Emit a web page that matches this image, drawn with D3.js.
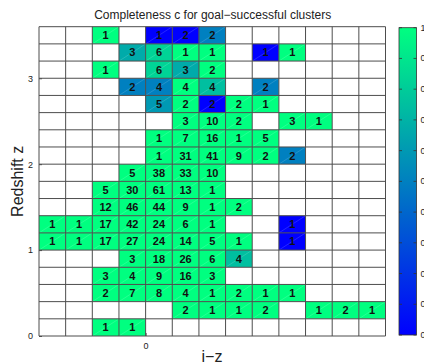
<!DOCTYPE html>
<html>
<head>
<meta charset="utf-8">
<script src="https://cdn.jsdelivr.net/npm/d3@7"></script>
<style>
  html, body { margin: 0; padding: 0; background: #fff; }
  svg { display: block; }
  text { font-family: "Liberation Sans", Arial, Helvetica, sans-serif; }
</style>
</head>
<body>
<svg id="chart" width="424" height="364"></svg>
<script>
// Bin lower edges: colour index i−z (13 bins) and redshift z (18 bins)
const izBins = [-0.4, -0.3, -0.2, -0.1, 0.0, 0.1, 0.2, 0.3, 0.4, 0.5, 0.6, 0.7, 0.8];
const zBins = [3.4, 3.2, 3.0, 2.8, 2.6, 2.4, 2.2, 2.0, 1.8, 1.6, 1.4, 1.2, 1.0, 0.8, 0.6, 0.4, 0.2, 0.0];
const binWidthIz = 0.1;
const binWidthZ = 0.2;

// Number of goal-successful clusters per bin (rows follow zBins, top to bottom)
const _ = null;
const counts = [
  [_, _, 1, _, 1, 2, 2, _, _, _, _, _, _],
  [_, _, _, 3, 6, 1, 1, _, 1, 1, _, _, _],
  [_, _, 1, _, 6, 3, 2, _, _, _, _, _, _],
  [_, _, _, 2, 4, 4, 4, _, 2, _, _, _, _],
  [_, _, _, _, 5, 2, 2, 2, 1, _, _, _, _],
  [_, _, _, _, _, 3, 10, 2, _, 3, 1, _, _],
  [_, _, _, _, 1, 7, 16, 1, 5, _, _, _, _],
  [_, _, _, _, 1, 31, 41, 9, 2, 2, _, _, _],
  [_, _, _, 5, 38, 33, 10, _, _, _, _, _, _],
  [_, _, 5, 30, 61, 13, 1, _, _, _, _, _, _],
  [_, _, 12, 46, 44, 9, 1, 2, _, _, _, _, _],
  [1, 1, 17, 42, 24, 6, 1, _, _, 1, _, _, _],
  [1, 1, 17, 27, 24, 14, 5, 1, _, 1, _, _, _],
  [_, _, _, 3, 18, 26, 6, 4, _, _, _, _, _],
  [_, _, 3, 4, 9, 16, 3, _, _, _, _, _, _],
  [_, _, 2, 7, 8, 4, 1, 2, 1, 1, _, _, _],
  [_, _, _, _, _, 2, 1, 1, 2, _, 1, 2, 1],
  [_, _, 1, 1, _, _, _, _, _, _, _, _, _]
];

// Completeness c per bin (same layout as counts)
const completeness = [
  [_, _, 1, _, 0, 0, 0.5, _, _, _, _, _, _],
  [_, _, _, 0.67, 0.83, 1, 1, _, 0, 1, _, _, _],
  [_, _, 1, _, 0.83, 0.67, 1, _, _, _, _, _, _],
  [_, _, _, 0.5, 0.5, 1, 0.75, _, 0.5, _, _, _, _],
  [_, _, _, _, 0.6, 1, 0, 1, 1, _, _, _, _],
  [_, _, _, _, _, 1, 1, 1, _, 1, 1, _, _],
  [_, _, _, _, 1, 1, 1, 1, 1, _, _, _, _],
  [_, _, _, _, 1, 1, 1, 1, 1, 0.5, _, _, _],
  [_, _, _, 1, 1, 1, 1, _, _, _, _, _, _],
  [_, _, 1, 1, 1, 1, 1, _, _, _, _, _, _],
  [_, _, 1, 1, 1, 1, 1, 1, _, _, _, _, _],
  [1, 1, 1, 1, 1, 1, 1, _, _, 0, _, _, _],
  [1, 1, 1, 1, 1, 1, 1, 1, _, 0, _, _, _],
  [_, _, _, 1, 1, 1, 1, 0.75, _, _, _, _, _],
  [_, _, 1, 1, 1, 1, 1, _, _, _, _, _, _],
  [_, _, 1, 1, 1, 1, 1, 1, 1, 1, _, _, _],
  [_, _, _, _, _, 1, 1, 1, 1, _, 1, 1, 1],
  [_, _, 1, 1, _, _, _, _, _, _, _, _, _]
];

const xTicks = [0];
const yTicks = [0, 1, 2, 3];
const cbTicks = [0, 0.1, 0.2, 0.3, 0.4, 0.5, 0.6, 0.7, 0.8, 0.9, 1];

const titleText = "Completeness c for goal\u2212successful clusters";
const xLabel = "i\u2212z";
const yLabel = "Redshift z";

// ---- layout ----
const svg = d3.select("#chart");
const plot = { left: 39, right: 385.5, top: 26.7, bottom: 336 };
const gridColor = "#4d4d4d";

const x = d3.scaleLinear()
  .domain([izBins[0], izBins[izBins.length - 1] + binWidthIz])
  .range([plot.left, plot.right]);
const y = d3.scaleLinear()
  .domain([0, zBins[0] + binWidthZ])
  .range([plot.bottom, plot.top]);

// blue → spring green ramp
const color = d3.scaleLinear()
  .domain([0, 1])
  .range(["rgb(0,0,255)", "rgb(0,255,128)"])
  .interpolate(d3.interpolateRgb);

// flatten the grid into cells
const cells = [];
zBins.forEach((z0, r) => {
  izBins.forEach((iz0, c) => {
    cells.push({ z0, iz0, n: counts[r][c], comp: completeness[r][c] });
  });
});

const g = svg.append("g");

// cell fills
g.selectAll("rect.cell")
  .data(cells)
  .join("rect")
  .attr("class", "cell")
  .attr("x", d => x(d.iz0))
  .attr("y", d => y(d.z0 + binWidthZ))
  .attr("width", d => x(d.iz0 + binWidthIz) - x(d.iz0))
  .attr("height", d => y(d.z0) - y(d.z0 + binWidthZ))
  .attr("fill", d => d.n == null ? "#fff" : color(d.comp));

// faint diagonal seams inside filled cells
g.selectAll("line.seam")
  .data(cells.filter(d => d.n != null))
  .join("line")
  .attr("class", "seam")
  .attr("x1", d => x(d.iz0))
  .attr("y1", d => y(d.z0))
  .attr("x2", d => x(d.iz0 + binWidthIz))
  .attr("y2", d => y(d.z0 + binWidthZ))
  .attr("stroke", "#fff")
  .attr("stroke-opacity", 0.25)
  .attr("stroke-width", 0.6);

// grid lines
const xEdges = izBins.concat([izBins[izBins.length - 1] + binWidthIz]);
const yEdges = zBins.concat([zBins[0] + binWidthZ]);
g.selectAll("line.vgrid")
  .data(xEdges)
  .join("line")
  .attr("x1", d => x(d)).attr("x2", d => x(d))
  .attr("y1", plot.top).attr("y2", plot.bottom)
  .attr("stroke", gridColor).attr("stroke-width", 1);
g.selectAll("line.hgrid")
  .data(yEdges)
  .join("line")
  .attr("y1", d => y(d)).attr("y2", d => y(d))
  .attr("x1", plot.left).attr("x2", plot.right)
  .attr("stroke", gridColor).attr("stroke-width", 1);

// counts
g.selectAll("text.count")
  .data(cells.filter(d => d.n != null))
  .join("text")
  .attr("class", "count")
  .attr("x", d => x(d.iz0 + binWidthIz / 2))
  .attr("y", d => y(d.z0 + binWidthZ / 2) + 4)
  .attr("text-anchor", "middle")
  .attr("font-size", 11)
  .attr("font-weight", "bold")
  .attr("fill", "#111")
  .text(d => d.n);

// axes
const yAxis = d3.axisLeft(y).tickValues(yTicks).tickSize(-3).tickPadding(6).tickFormat(d3.format("d"));
const yg = svg.append("g").attr("transform", `translate(${plot.left},0)`).call(yAxis);
yg.select(".domain").remove();
yg.selectAll("line").attr("stroke", gridColor);
yg.selectAll("text").attr("font-size", 9).attr("fill", "#222");

const xAxis = d3.axisBottom(x).tickValues(xTicks).tickSize(-3).tickPadding(7).tickFormat(d3.format("d"));
const xg = svg.append("g").attr("transform", `translate(0,${plot.bottom})`).call(xAxis);
xg.select(".domain").remove();
xg.selectAll("line").attr("stroke", gridColor);
xg.selectAll("text").attr("font-size", 9).attr("fill", "#222");

// title and labels
svg.append("text")
  .attr("x", (plot.left + plot.right) / 2 + 0.5)
  .attr("y", 19)
  .attr("text-anchor", "middle")
  .attr("font-size", 12)
  .attr("fill", "#222")
  .text(titleText);

svg.append("text")
  .attr("x", 212)
  .attr("y", 362)
  .attr("text-anchor", "middle")
  .attr("font-size", 16)
  .attr("fill", "#222")
  .text(xLabel);

svg.append("text")
  .attr("transform", `translate(23,${(plot.top + plot.bottom) / 2}) rotate(-90)`)
  .attr("text-anchor", "middle")
  .attr("font-size", 16)
  .attr("fill", "#222")
  .text(yLabel);

// colour bar
const cb = { x: 399, w: 17.5, top: plot.top + 1, bottom: plot.bottom - 1 };
const cbScale = d3.scaleLinear().domain([0, 1]).range([cb.bottom, cb.top]);
const defs = svg.append("defs");
const grad = defs.append("linearGradient")
  .attr("id", "cbgrad")
  .attr("x1", 0).attr("y1", 1).attr("x2", 0).attr("y2", 0);
d3.range(0, 1.0001, 0.1).forEach(t => {
  grad.append("stop").attr("offset", t).attr("stop-color", color(t));
});
svg.append("rect")
  .attr("x", cb.x).attr("y", cb.top)
  .attr("width", cb.w).attr("height", cb.bottom - cb.top)
  .attr("fill", "url(#cbgrad)")
  .attr("stroke", "#333").attr("stroke-width", 0.8);

const cbg = svg.append("g");
cbg.selectAll("line.cbl")
  .data(cbTicks)
  .join("line")
  .attr("x1", cb.x).attr("x2", cb.x + 3)
  .attr("y1", d => cbScale(d)).attr("y2", d => cbScale(d))
  .attr("stroke", "#333").attr("stroke-width", 0.8);
cbg.selectAll("line.cbr")
  .data(cbTicks)
  .join("line")
  .attr("x1", cb.x + cb.w - 3).attr("x2", cb.x + cb.w)
  .attr("y1", d => cbScale(d)).attr("y2", d => cbScale(d))
  .attr("stroke", "#333").attr("stroke-width", 0.8);
cbg.selectAll("text")
  .data(cbTicks)
  .join("text")
  .attr("x", cb.x + cb.w + 4)
  .attr("y", d => cbScale(d) + 3)
  .attr("font-size", 9)
  .attr("fill", "#222")
  .text(d => d3.format("~g")(d));
</script>
</body>
</html>
